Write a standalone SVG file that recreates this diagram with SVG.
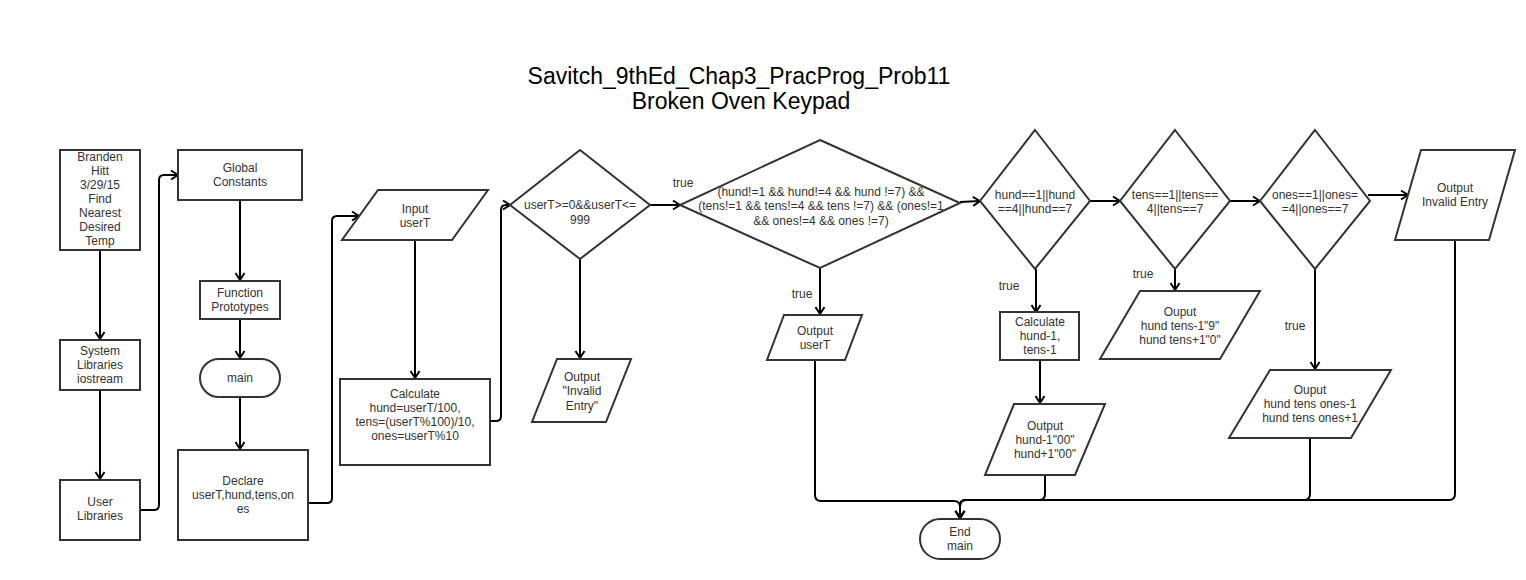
<svg xmlns="http://www.w3.org/2000/svg" width="1526" height="580" viewBox="0 0 1526 580">
<defs>
<marker id="arr" markerUnits="userSpaceOnUse" markerWidth="12" markerHeight="12" refX="9" refY="6" orient="auto">
<path d="M2,1.5 L9,6 L2,10.5" fill="none" stroke="#000" stroke-width="2"/>
</marker>
<style>
.s{fill:#fff;stroke:#333;stroke-width:2}
.c{fill:none;stroke:#000;stroke-width:2;marker-end:url(#arr)}
.t{font-family:"Liberation Sans",Arial,sans-serif;font-size:12px;fill:#333;text-anchor:middle}
.l{font-family:"Liberation Sans",Arial,sans-serif;font-size:12px;fill:#333;text-anchor:middle}
.h{font-family:"Liberation Sans",Arial,sans-serif;font-size:23px;fill:#000;text-anchor:middle}
</style>
</defs>
<rect width="1526" height="580" fill="#fff"/>
<g id="title">
<text class="h" x="739" y="84">Savitch_9thEd_Chap3_PracProg_Prob11</text>
<text class="h" x="741" y="109">Broken Oven Keypad</text>
</g>
<g id="connectors">
<path class="c" d="M100,250 L100,339"/>
<path class="c" d="M100,390 L100,479"/>
<path class="c" d="M140,510 L154,510 Q159,510 159,505 L159,180 Q159,175 164,175 L178,175"/>
<path class="c" d="M240,200 L240,280"/>
<path class="c" d="M240,319 L240,358"/>
<path class="c" d="M240,397 L240,449"/>
<path class="c" d="M308,503 L327,503 Q332,503 332,498 L332,221 Q332,216 337,216 L359,216"/>
<path class="c" d="M415,240 L415,378"/>
<path class="c" d="M490,421 L496,421 Q501,421 501,416 L501,210 Q501,205 506,205 L510,205"/>
<path class="c" d="M580,259 L580,358"/>
<path class="c" d="M650,205 L680,205"/>
<path class="c" d="M960,202 L980,201"/>
<path class="c" d="M820,267 L820,314"/>
<path class="c" d="M1090,201 L1120,201"/>
<path class="c" d="M1230,201 L1260,201"/>
<path class="c" d="M1368,195 L1408,195"/>
<path class="c" d="M1036,269 L1036,312"/>
<path class="c" d="M1040,360 L1040,403"/>
<path class="c" d="M1175,269 L1175,290"/>
<path class="c" d="M1315,269 L1315,369"/>
<path class="c" d="M815,360 L815,495 Q815,501 821,501 L954,501 Q960,501 960,507 L960,518"/>
<path class="c" d="M1045,475 L1045,494 Q1045,500 1039,500 L966,500 Q960,500 960,506 L960,518"/>
<path class="c" d="M1310,438 L1310,494 Q1310,500 1304,500 L966,500 Q960,500 960,506 L960,518"/>
<path class="c" d="M1455,240 L1455,494 Q1455,500 1449,500 L966,500 Q960,500 960,506 L960,518"/>
<text class="l" x="683" y="187">true</text>
<text class="l" x="802" y="298">true</text>
<text class="l" x="1009" y="290">true</text>
<text class="l" x="1143" y="278">true</text>
<text class="l" x="1295" y="330">true</text>
</g>
<g id="header">
<rect class="s" x="60" y="150" width="80" height="100"/>
<text class="t" x="100" y="161">Branden</text>
<text class="t" x="100" y="175">Hitt</text>
<text class="t" x="100" y="189">3/29/15</text>
<text class="t" x="100" y="203">Find</text>
<text class="t" x="100" y="217">Nearest</text>
<text class="t" x="100" y="231">Desired</text>
<text class="t" x="100" y="245">Temp</text>
</g>
<g id="syslib">
<rect class="s" x="60" y="340" width="80" height="50"/>
<text class="t" x="100" y="355">System</text>
<text class="t" x="100" y="369">Libraries</text>
<text class="t" x="100" y="383">iostream</text>
</g>
<g id="userlib">
<rect class="s" x="60" y="480" width="80" height="60"/>
<text class="t" x="100" y="506">User</text>
<text class="t" x="100" y="520">Libraries</text>
</g>
<g id="globals">
<rect class="s" x="178" y="150" width="124" height="50"/>
<text class="t" x="240" y="172">Global</text>
<text class="t" x="240" y="186">Constants</text>
</g>
<g id="prototypes">
<rect class="s" x="200" y="281" width="80" height="38"/>
<text class="t" x="240" y="297">Function</text>
<text class="t" x="240" y="311">Prototypes</text>
</g>
<g id="main">
<rect class="s" x="200" y="359" width="80" height="38" rx="19" ry="19"/>
<text class="t" x="240" y="382">main</text>
</g>
<g id="declare">
<rect class="s" x="178" y="450" width="130" height="90"/>
<text class="t" x="243" y="485">Declare</text>
<text class="t" x="243" y="499">userT,hund,tens,on</text>
<text class="t" x="243" y="513">es</text>
</g>
<g id="input">
<polygon class="s" points="378,190 488,190 452,240 342,240"/>
<text class="t" x="415" y="213">Input</text>
<text class="t" x="415" y="227">userT</text>
</g>
<g id="calc">
<rect class="s" x="340" y="379" width="150" height="86"/>
<text class="t" x="415" y="398">Calculate</text>
<text class="t" x="415" y="412">hund=userT/100,</text>
<text class="t" x="415" y="426">tens=(userT%100)/10,</text>
<text class="t" x="415" y="440">ones=userT%10</text>
</g>
<g id="range">
<polygon class="s" points="580,150 650,205 580,259 510,205"/>
<text class="t" x="580" y="209">userT&gt;=0&amp;&amp;userT&lt;=</text>
<text class="t" x="580" y="224">999</text>
</g>
<g id="invalid1">
<polygon class="s" points="557,359 631,359 606,422 532,422"/>
<text class="t" x="582" y="381">Output</text>
<text class="t" x="582" y="395">"Invalid</text>
<text class="t" x="582" y="410">Entry"</text>
</g>
<g id="allok">
<polygon class="s" points="820,140 960,203 820,268 680,205"/>
<text class="t" x="821" y="196">(hund!=1 &amp;&amp; hund!=4 &amp;&amp; hund !=7) &amp;&amp;</text>
<text class="t" x="821" y="210">(tens!=1 &amp;&amp; tens!=4 &amp;&amp; tens !=7) &amp;&amp; (ones!=1</text>
<text class="t" x="821" y="225">&amp;&amp; ones!=4 &amp;&amp; ones !=7)</text>
</g>
<g id="outuser">
<polygon class="s" points="784,315 862,315 845,360 767,360"/>
<text class="t" x="815" y="335">Output</text>
<text class="t" x="815" y="349">userT</text>
</g>
<g id="hundchk">
<polygon class="s" points="1035,130 1090,201 1035,269 980,201"/>
<text class="t" x="1035" y="199">hund==1||hund</text>
<text class="t" x="1035" y="213">==4||hund==7</text>
</g>
<g id="calchund">
<rect class="s" x="1000" y="312" width="79" height="48"/>
<text class="t" x="1040" y="326">Calculate</text>
<text class="t" x="1040" y="340">hund-1,</text>
<text class="t" x="1040" y="354">tens-1</text>
</g>
<g id="outhund">
<polygon class="s" points="1014,404 1105,404 1075,475 985,475"/>
<text class="t" x="1045" y="430">Output</text>
<text class="t" x="1045" y="444">hund-1"00"</text>
<text class="t" x="1045" y="458">hund+1"00"</text>
</g>
<g id="tenschk">
<polygon class="s" points="1175,130 1230,201 1175,269 1120,201"/>
<text class="t" x="1175" y="199">tens==1||tens==</text>
<text class="t" x="1175" y="213">4||tens==7</text>
</g>
<g id="outtens">
<polygon class="s" points="1140,291 1260,291 1220,359 1100,359"/>
<text class="t" x="1180" y="316">Ouput</text>
<text class="t" x="1180" y="330">hund tens-1"9"</text>
<text class="t" x="1180" y="344">hund tens+1"0"</text>
</g>
<g id="oneschk">
<polygon class="s" points="1315,130 1370,201 1315,269 1260,201"/>
<text class="t" x="1315" y="199">ones==1||ones=</text>
<text class="t" x="1315" y="213">=4||ones==7</text>
</g>
<g id="outones">
<polygon class="s" points="1270,370 1391,370 1351,438 1229,438"/>
<text class="t" x="1310" y="394">Ouput</text>
<text class="t" x="1310" y="408">hund tens ones-1</text>
<text class="t" x="1310" y="422">hund tens ones+1</text>
</g>
<g id="invalid2">
<polygon class="s" points="1421,150 1515,150 1489,240 1395,240"/>
<text class="t" x="1455" y="192">Output</text>
<text class="t" x="1455" y="206">Invalid Entry</text>
</g>
<g id="end">
<rect class="s" x="920" y="519" width="80" height="40" rx="20" ry="20"/>
<text class="t" x="960" y="536">End</text>
<text class="t" x="960" y="550">main</text>
</g>
</svg>
